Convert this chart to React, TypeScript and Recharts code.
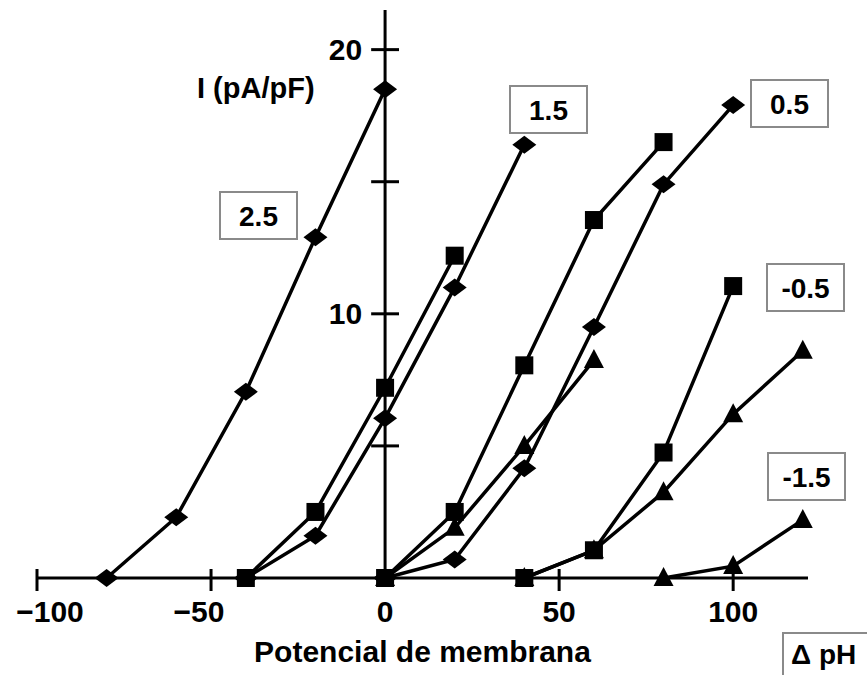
import React from "react";
import { ScatterChart, Scatter, XAxis, YAxis, ReferenceLine, Label } from "recharts";

const FONT = '"Liberation Sans", Arial, Helvetica, sans-serif';

// membrane potential (mV) -> I (pA/pF), one pair of arrays per curve
const ph25DiamondX = [-80, -60, -40, -20, 0];
const ph25DiamondY = [0, 2.3, 7.05, 12.9, 18.5];

const ph15SquareX = [-40, -20, 0, 20];
const ph15SquareY = [0, 2.5, 7.2, 12.2];
const ph15DiamondX = [-40, -20, 0, 20, 40];
const ph15DiamondY = [0, 1.6, 6.05, 11.0, 16.4];

const ph05SquareX = [0, 20, 40, 60, 80];
const ph05SquareY = [0, 2.5, 8.05, 13.55, 16.5];
const ph05TriangleX = [0, 20, 40, 60];
const ph05TriangleY = [0, 1.9, 5.0, 8.25];
const ph05DiamondX = [0, 20, 40, 60, 80, 100];
const ph05DiamondY = [0, 0.7, 4.15, 9.5, 14.9, 17.9];

const phM05SquareX = [40, 60, 80, 100];
const phM05SquareY = [0, 1.05, 4.75, 11.05];
const phM05TriangleX = [40, 60, 80, 100, 120];
const phM05TriangleY = [0, 1.05, 3.25, 6.2, 8.6];

const phM15TriangleX = [80, 100, 120];
const phM15TriangleY = [0, 0.45, 2.2];

const xTicks = [-100, -50, 0, 50, 100];
const xTickLabels = ["\u2212100", "\u221250", "0", "50", "100"];
const yTicks = [5, 10, 15, 20];
const yTickLabels = ["", "10", "", "20"];

const phLabels = ["2.5", "1.5", "0.5", "-0.5", "-1.5"];

// where the boxed ΔpH labels sit on the page
const boxLayout = [
  { x: 220, y: 192 },
  { x: 510, y: 86 },
  { x: 751, y: 80 },
  { x: 767, y: 264 },
  { x: 768, y: 453 },
];

const pts = (xs: number[], ys: number[]) => xs.map((x, i) => ({ x, y: ys[i] }));

const Diamond = (p: any) => (
  <polygon
    points={`${p.cx - 12},${p.cy} ${p.cx},${p.cy - 9} ${p.cx + 12},${p.cy} ${p.cx},${p.cy + 9}`}
    fill="#000"
  />
);
const Square = (p: any) => <rect x={p.cx - 9} y={p.cy - 9} width={18} height={18} fill="#000" />;
const Triangle = (p: any) => (
  <polygon
    points={`${p.cx},${p.cy - 11} ${p.cx - 10},${p.cy + 8} ${p.cx + 10},${p.cy + 8}`}
    fill="#000"
  />
);

const series = [
  { name: "2.5 diamond", data: pts(ph25DiamondX, ph25DiamondY), shape: Diamond },
  { name: "1.5 diamond", data: pts(ph15DiamondX, ph15DiamondY), shape: Diamond },
  { name: "1.5 square", data: pts(ph15SquareX, ph15SquareY), shape: Square },
  { name: "0.5 triangle", data: pts(ph05TriangleX, ph05TriangleY), shape: Triangle },
  { name: "0.5 diamond", data: pts(ph05DiamondX, ph05DiamondY), shape: Diamond },
  { name: "0.5 square", data: pts(ph05SquareX, ph05SquareY), shape: Square },
  { name: "-0.5 triangle", data: pts(phM05TriangleX, phM05TriangleY), shape: Triangle },
  { name: "-0.5 square", data: pts(phM05SquareX, phM05SquareY), shape: Square },
  { name: "-1.5 triangle", data: pts(phM15TriangleX, phM15TriangleY), shape: Triangle },
];

// ticks cross the axis line, labels sit below
const tickDx: Record<number, number> = { [-100]: 13, [-50]: -12 };

function XTick({ x, y, payload }: any) {
  const v = payload.value;
  const i = xTicks.indexOf(v);
  return (
    <g>
      {v !== 0 && <line x1={x} x2={x} y1={y - 9} y2={y + 13} stroke="#000" strokeWidth={3} />}
      <text
        x={x + (tickDx[v] || 0)}
        y={y + 44}
        textAnchor="middle"
        fontSize={30}
        fontWeight={700}
        fontFamily={FONT}
        fill="#000"
      >
        {xTickLabels[i]}
      </text>
    </g>
  );
}

export default function App() {
  return (
    <div
      style={{
        position: "fixed",
        left: 0,
        top: 0,
        width: 867,
        height: 675,
        overflow: "hidden",
        background: "#fff",
      }}
    >
      <ScatterChart width={867} height={675} margin={{ top: 10, right: 59, bottom: 37, left: 37 }}>
        <XAxis
          type="number"
          dataKey="x"
          domain={[-100, 121.5]}
          ticks={xTicks}
          interval={0}
          axisLine={{ stroke: "#000", strokeWidth: 3 }}
          tickLine={false}
          tickSize={0}
          tickMargin={0}
          tick={(props: any) => <XTick {...props} />}
          height={60}
        >
          <Label
            value="Potencial de membrana"
            position="bottom"
            offset={3}
            fontSize={30}
            fontWeight={700}
            fontFamily={FONT}
            fill="#000"
          />
        </XAxis>
        <YAxis type="number" dataKey="y" domain={[0, 21.5]} hide />
        <ReferenceLine x={0} stroke="#000" strokeWidth={3} />
        {yTicks.map((v, i) => (
          <ReferenceLine
            key={v}
            segment={[
              { x: -4, y: v },
              { x: 4, y: v },
            ]}
            stroke="#000"
            strokeWidth={3}
            label={
              yTickLabels[i]
                ? {
                    value: yTickLabels[i],
                    position: "left",
                    offset: 9,
                    fontSize: 30,
                    fontWeight: 700,
                    fontFamily: FONT,
                    fill: "#000",
                  }
                : undefined
            }
          />
        ))}
        {series.map((s) => (
          <Scatter
            key={s.name}
            name={s.name}
            data={s.data}
            fill="#000"
            line={{ stroke: "#000", strokeWidth: 3.5 }}
            shape={s.shape}
            isAnimationActive={false}
          />
        ))}
      </ScatterChart>

      <svg
        width={867}
        height={675}
        style={{ position: "absolute", left: 0, top: 0, pointerEvents: "none" }}
        fontFamily={FONT}
        fontWeight={700}
      >
        <text x={197} y={98} fontSize={29} fill="#000">
          I (pA/pF)
        </text>
        {phLabels.map((t, i) => (
          <g key={t}>
            <rect
              x={boxLayout[i].x}
              y={boxLayout[i].y}
              width={77}
              height={47}
              fill="#fff"
              stroke="#8a8a8a"
              strokeWidth={2}
            />
            <text
              x={boxLayout[i].x + 38.5}
              y={boxLayout[i].y + 34}
              textAnchor="middle"
              fontSize={28}
              fill="#000"
            >
              {t}
            </text>
          </g>
        ))}
        <rect x={783} y={633} width={90} height={50} fill="#fff" stroke="#8a8a8a" strokeWidth={2} />
        <text x={791} y={664} fontSize={28} fill="#000">
          Δ pH
        </text>
      </svg>
    </div>
  );
}
